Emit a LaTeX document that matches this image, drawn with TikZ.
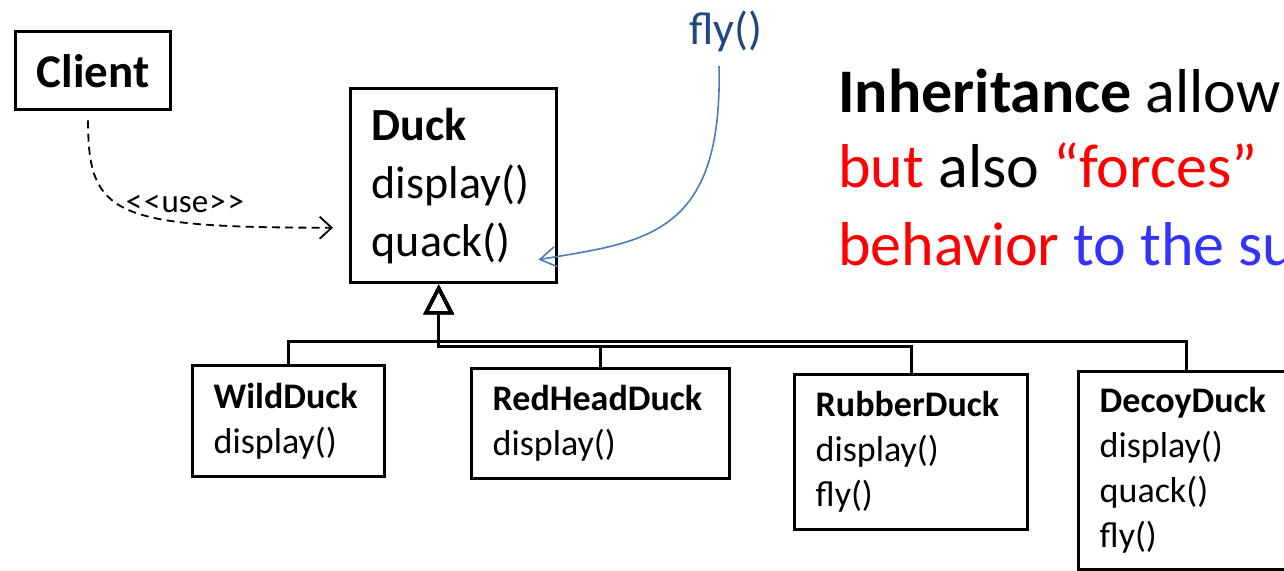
\documentclass[tikz,border=0pt]{standalone}
\usepackage{fontspec}
\setmainfont{Carlito}
\usetikzlibrary{positioning,arrows.meta,calc}
\definecolor{flyblue}{RGB}{31,73,125}
\definecolor{flyline}{RGB}{74,126,187}
\definecolor{hotred}{RGB}{255,0,0}
\definecolor{subblue}{RGB}{51,51,255}
\tikzset{
  cls/.style={draw,line width=1.7pt,align=left,anchor=north west,
    inner xsep=10.5pt,inner ysep=0pt,font=\fontsize{18}{22.5}\selectfont},
  inh/.style={line width=1.7pt,-{Triangle[open,length=15pt,width=15pt]}},
  dep/.style={line width=0.9pt,dash pattern=on 4pt off 2.6pt,-{Straight Barb[length=6pt,width=11pt]}},
  flyarrow/.style={draw=flyline,line width=0.8pt,-{Straight Barb[length=8pt,width=10pt]}},
  note/.style={anchor=base west,inner sep=0pt,font=\fontsize{31}{38}\selectfont},
}
\begin{document}
\begin{tikzpicture}[x=0.5pt,y=-0.5pt]
  \useasboundingbox (0,0) rectangle (1284,570);
  \clip (0,0) rectangle (1284,570);
  % classes
  \node[cls,align=center,minimum width=77pt,minimum height=39pt,
        font=\fontsize{23.5}{28}\selectfont\bfseries] (client) at (14,30) {Client};
  \node[cls,text width=82pt,minimum height=97pt,font=\fontsize{23}{29}\selectfont]
        (duck) at (349,87) {\textbf{Duck}\\display()\\quack()};
  \node[cls,text width=75pt,minimum height=55.5pt] (wild) at (191,364)
        {\textbf{WildDuck}\\display()};
  \node[cls,text width=108pt,minimum height=55pt] (redhead) at (470,367)
        {\textbf{RedHeadDuck}\\display()};
  \node[cls,text width=95.5pt,minimum height=77.5pt] (rubber) at (793,373)
        {\textbf{RubberDuck}\\display()\\fly()};
  \node[cls,text width=87pt,minimum height=99pt] (decoy) at (1077,370)
        {\textbf{DecoyDuck}\\display()\\quack()\\fly()};
  % inheritance
  \coordinate (tip) at ([xshift=-7.5pt]duck.south);
  \draw[inh] (wild.north) |- ([yshift=-28.5pt]tip) -- (tip);
  \draw[inh] (redhead.north) |- ([yshift=-31pt]tip) -- (tip);
  \draw[inh] (rubber.north) |- ([yshift=-31pt]tip) -- (tip);
  \draw[inh] (decoy.north) |- ([yshift=-28.5pt]tip) -- (tip);
  % client uses duck
  \draw[dep] ([xshift=-2.5pt,yshift=-4.5pt]client.south)
        .. controls +(0,95) and +(-220,0) .. ([xshift=-8pt,yshift=-21pt]duck.west);
  \node[font=\fontsize{16.5}{19}\selectfont,inner sep=0pt] (use) at (185,204)
        {<\kern1pt<\kern0.5pt use\kern0.5pt>\kern1pt>};
  % fly() pushed into Duck
  \node[font=\fontsize{23}{28}\selectfont,text=flyblue,inner sep=0pt] (fly) at (726,31) {fly()};
  \draw[flyarrow] ([xshift=-3.5pt,yshift=-7pt]fly.south)
        .. controls +(4,172) and +(105,-18) .. ([xshift=-10pt,yshift=-37pt]duck.east);
  % remark
  \node[note] (l1) at (838,112) {\textbf{Inheritance} allow};
  \node[note] (l2) at (838,187) {\textcolor{hotred}{but} also \textcolor{hotred}{“forces”}};
  \node[note] (l3) at (838,265) {\textcolor{hotred}{behavior} \textcolor{subblue}{to the su}};
\end{tikzpicture}
\end{document}
